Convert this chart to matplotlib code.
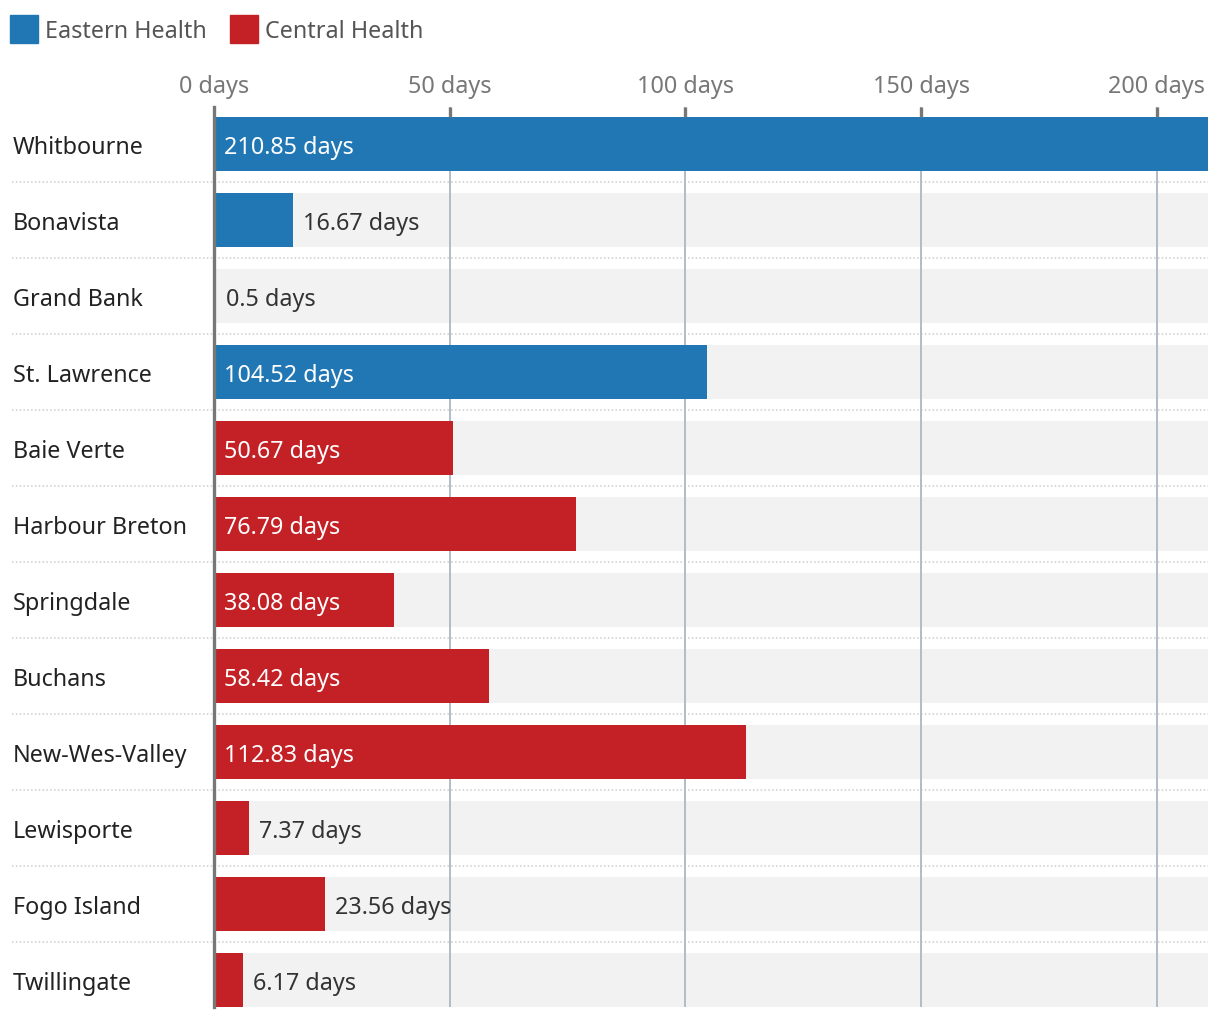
import matplotlib
matplotlib.use("Agg")
import matplotlib.pyplot as plt
import matplotlib.transforms as mtransforms
from matplotlib.patches import Rectangle

plt.rcParams['font.family'] = ['Noto Sans', 'DejaVu Sans']

sites = ["Whitbourne", "Bonavista", "Grand Bank", "St. Lawrence", "Baie Verte",
         "Harbour Breton", "Springdale", "Buchans", "New-Wes-Valley",
         "Lewisporte", "Fogo Island", "Twillingate"]
days = [210.85, 16.67, 0.5, 104.52, 50.67, 76.79, 38.08, 58.42, 112.83,
        7.37, 23.56, 6.17]
region = ["Eastern Health"] * 4 + ["Central Health"] * 8
ticks = [0, 50, 100, 150, 200]

colors = {"Eastern Health": "#2077b4", "Central Health": "#c42127"}
W, H = 1220, 1020
x0, x1 = 214, 1208
y_top, y_bot = 108, 1008
fs = 16.8

fig = plt.figure(figsize=(W / 100, H / 100), dpi=100)
ax = fig.add_axes([x0 / W, 1 - y_bot / H, (x1 - x0) / W, (y_bot - y_top) / H])
xmax = max(days)
ax.set_xlim(0, xmax)
pitch = 76
ax.set_ylim(len(sites) - 1 + 27 / pitch, -37 / pitch)
for s in ax.spines.values():
    s.set_visible(False)
ax.set_xticks([])
ax.set_yticks([])

bh = 54 / pitch
px = xmax / (x1 - x0)  # data units per pixel
dy = 3 / pitch  # text sits a little below bar centre
for i, (name, v, r) in enumerate(zip(sites, days, region)):
    ax.barh(i, xmax, height=bh, color="#f2f2f2", zorder=1)
    ax.barh(i, v, height=bh, color=colors[r], zorder=3)
    lab = f"{v:g} days"
    if v > 30:
        ax.text(10 * px, i + dy, lab, color="white", fontsize=fs, va="center",
                ha="left", zorder=5)
    else:
        ax.text(max(v, 2 * px) + 10 * px, i + dy, lab, color="#333333",
                fontsize=fs, va="center", ha="left", zorder=5)
    ax.text(-201 * px, i + dy, name, color="#222222", fontsize=fs,
            va="center", ha="left", clip_on=False)

# dotted separators
trans = mtransforms.blended_transform_factory(ax.transAxes, ax.transData)
for i in range(len(sites) - 1):
    ax.plot([(12 - x0) / (x1 - x0), 1], [i + 0.5, i + 0.5], transform=trans,
            color="#cccccc", lw=1.1, ls=(0, (1, 1.5)), clip_on=False, zorder=2)

# grid lines
for t in ticks:
    if t == 0:
        ax.axvline(0, color="#777777", lw=2.4, zorder=6, clip_on=False)
    else:
        ax.axvline(t, color="#b0bcc6", lw=1.4, zorder=2)
        ax.plot([t, t], [-37 / pitch, -27 / pitch], color="#777777", lw=2.4,
                zorder=6, solid_capstyle="butt")
    ax.text(t, -37 / pitch - 21 / pitch, f"{t} days", color="#777777",
            fontsize=fs, ha="center", va="center", clip_on=False)

# legend
lx = [10, 230]
for x, r in zip(lx, ["Eastern Health", "Central Health"]):
    fig.patches.append(Rectangle((x / W, 1 - 44 / H), 28 / W, 28 / H,
                                 transform=fig.transFigure, color=colors[r]))
    fig.text((x + 35) / W, 1 - 32 / H, r, color="#555555", fontsize=fs,
             va="center", ha="left")

fig.savefig("out.png", dpi=100)
